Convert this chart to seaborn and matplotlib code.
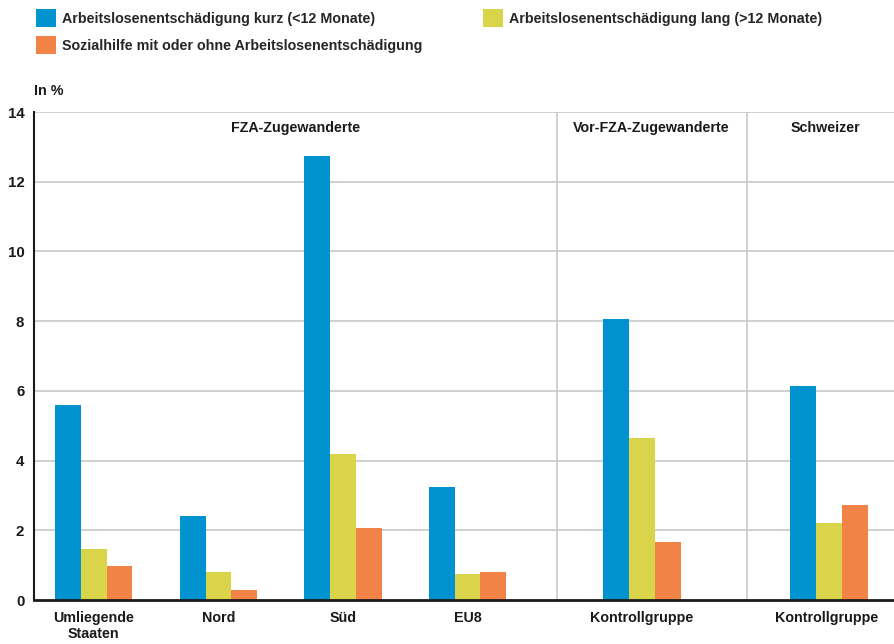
import matplotlib
matplotlib.use("Agg")
import matplotlib.pyplot as plt
import seaborn as sns
import pandas as pd
from matplotlib.patches import Patch

# ---- data ----
categories = ["Umliegende\nStaaten", "Nord", "Süd", "EU8", "Kontrollgruppe", "Kontrollgruppe "]
series_names = ["Arbeitslosenentschädigung kurz (<12 Monate)",
                "Arbeitslosenentschädigung lang (>12 Monate)",
                "Sozialhilfe mit oder ohne Arbeitslosenentschädigung"]
kurz = [5.59, 2.41, 12.74, 3.24, 8.06, 6.14]
lang = [1.46, 0.80, 4.19, 0.75, 4.65, 2.21]
sozial = [0.98, 0.29, 2.07, 0.80, 1.66, 2.73]
group_titles = ["FZA-Zugewanderte", "Vor-FZA-Zugewanderte", "Schweizer"]
yticks = [0, 2, 4, 6, 8, 10, 12, 14]

# ---- layout ----
positions = [0, 1, 2, 3, 4.4, 5.9]
separators = [3.72, 5.245]
title_x = [1.62, 4.47, 5.87]
colors = ["#0093d0", "#dad44b", "#f28346"]

rows = []
for vals, name in zip([kurz, lang, sozial], series_names):
    for p, v in zip(positions, vals):
        rows.append({"pos": p, "value": v, "series": name})
df = pd.DataFrame(rows)

sns.set_style("white")
plt.rcParams["font.family"] = ["Liberation Sans", "DejaVu Sans"]
plt.rcParams["font.weight"] = "bold"
FS = 10.3
TXT = "#1a1a1a"

fig = plt.figure(figsize=(8.95, 6.44), dpi=100)
ax = fig.add_axes([34 / 895, 44 / 644, 1 - 34 / 895, 488 / 644])

sns.barplot(data=df, x="pos", y="value", hue="series", hue_order=series_names,
            palette=colors, saturation=1, native_scale=True, width=0.62, linewidth=0,
            ax=ax, legend=False, errorbar=None)

ax.set_xlim(-0.48, 6.43)
ax.set_ylim(0, 14)
ax.set_yticks(yticks)
ax.set_yticklabels([str(t) for t in yticks], fontsize=FS + 0.5, fontweight="bold", color=TXT)
ax.set_xticks(positions)
ax.set_xticklabels(categories, fontsize=FS, fontweight="bold", color=TXT, linespacing=1.15)
ax.tick_params(axis="x", length=0, pad=8)
ax.tick_params(axis="y", length=0, pad=7)
ax.set_xlabel("")
ax.set_ylabel("")

for t in yticks[1:]:
    ax.axhline(t, color="#c8c8c8", linewidth=1.2, zorder=0)
for s in separators:
    ax.axvline(s, color="#c8c8c8", linewidth=1.2, zorder=0)

for sp in ["top", "right"]:
    ax.spines[sp].set_visible(False)
ax.spines["left"].set_color(TXT)
ax.spines["left"].set_linewidth(1.5)
ax.spines["bottom"].set_color(TXT)
ax.spines["bottom"].set_linewidth(2)

for x, t in zip(title_x, group_titles):
    ax.text(x, 13.54, t, ha="center", va="center", fontsize=FS, fontweight="bold", color=TXT)

fig.text(34 / 895, 1 - 91 / 644, "In %", ha="left", va="center", fontsize=FS,
         fontweight="bold", color=TXT)

handles = [Patch(facecolor=c, edgecolor="none") for c in colors]
order = [0, 2, 1]
fig.legend([handles[i] for i in order], [series_names[i] for i in order],
           ncol=2, loc="upper left", bbox_to_anchor=(30 / 895, 1 - 3 / 644),
           frameon=False, prop={"size": FS, "weight": "bold"},
           handlelength=1.4, handleheight=1.6,
           handletextpad=0.45, columnspacing=4.2, labelspacing=0.6, borderaxespad=0)

fig.savefig("out.png", dpi=100)
